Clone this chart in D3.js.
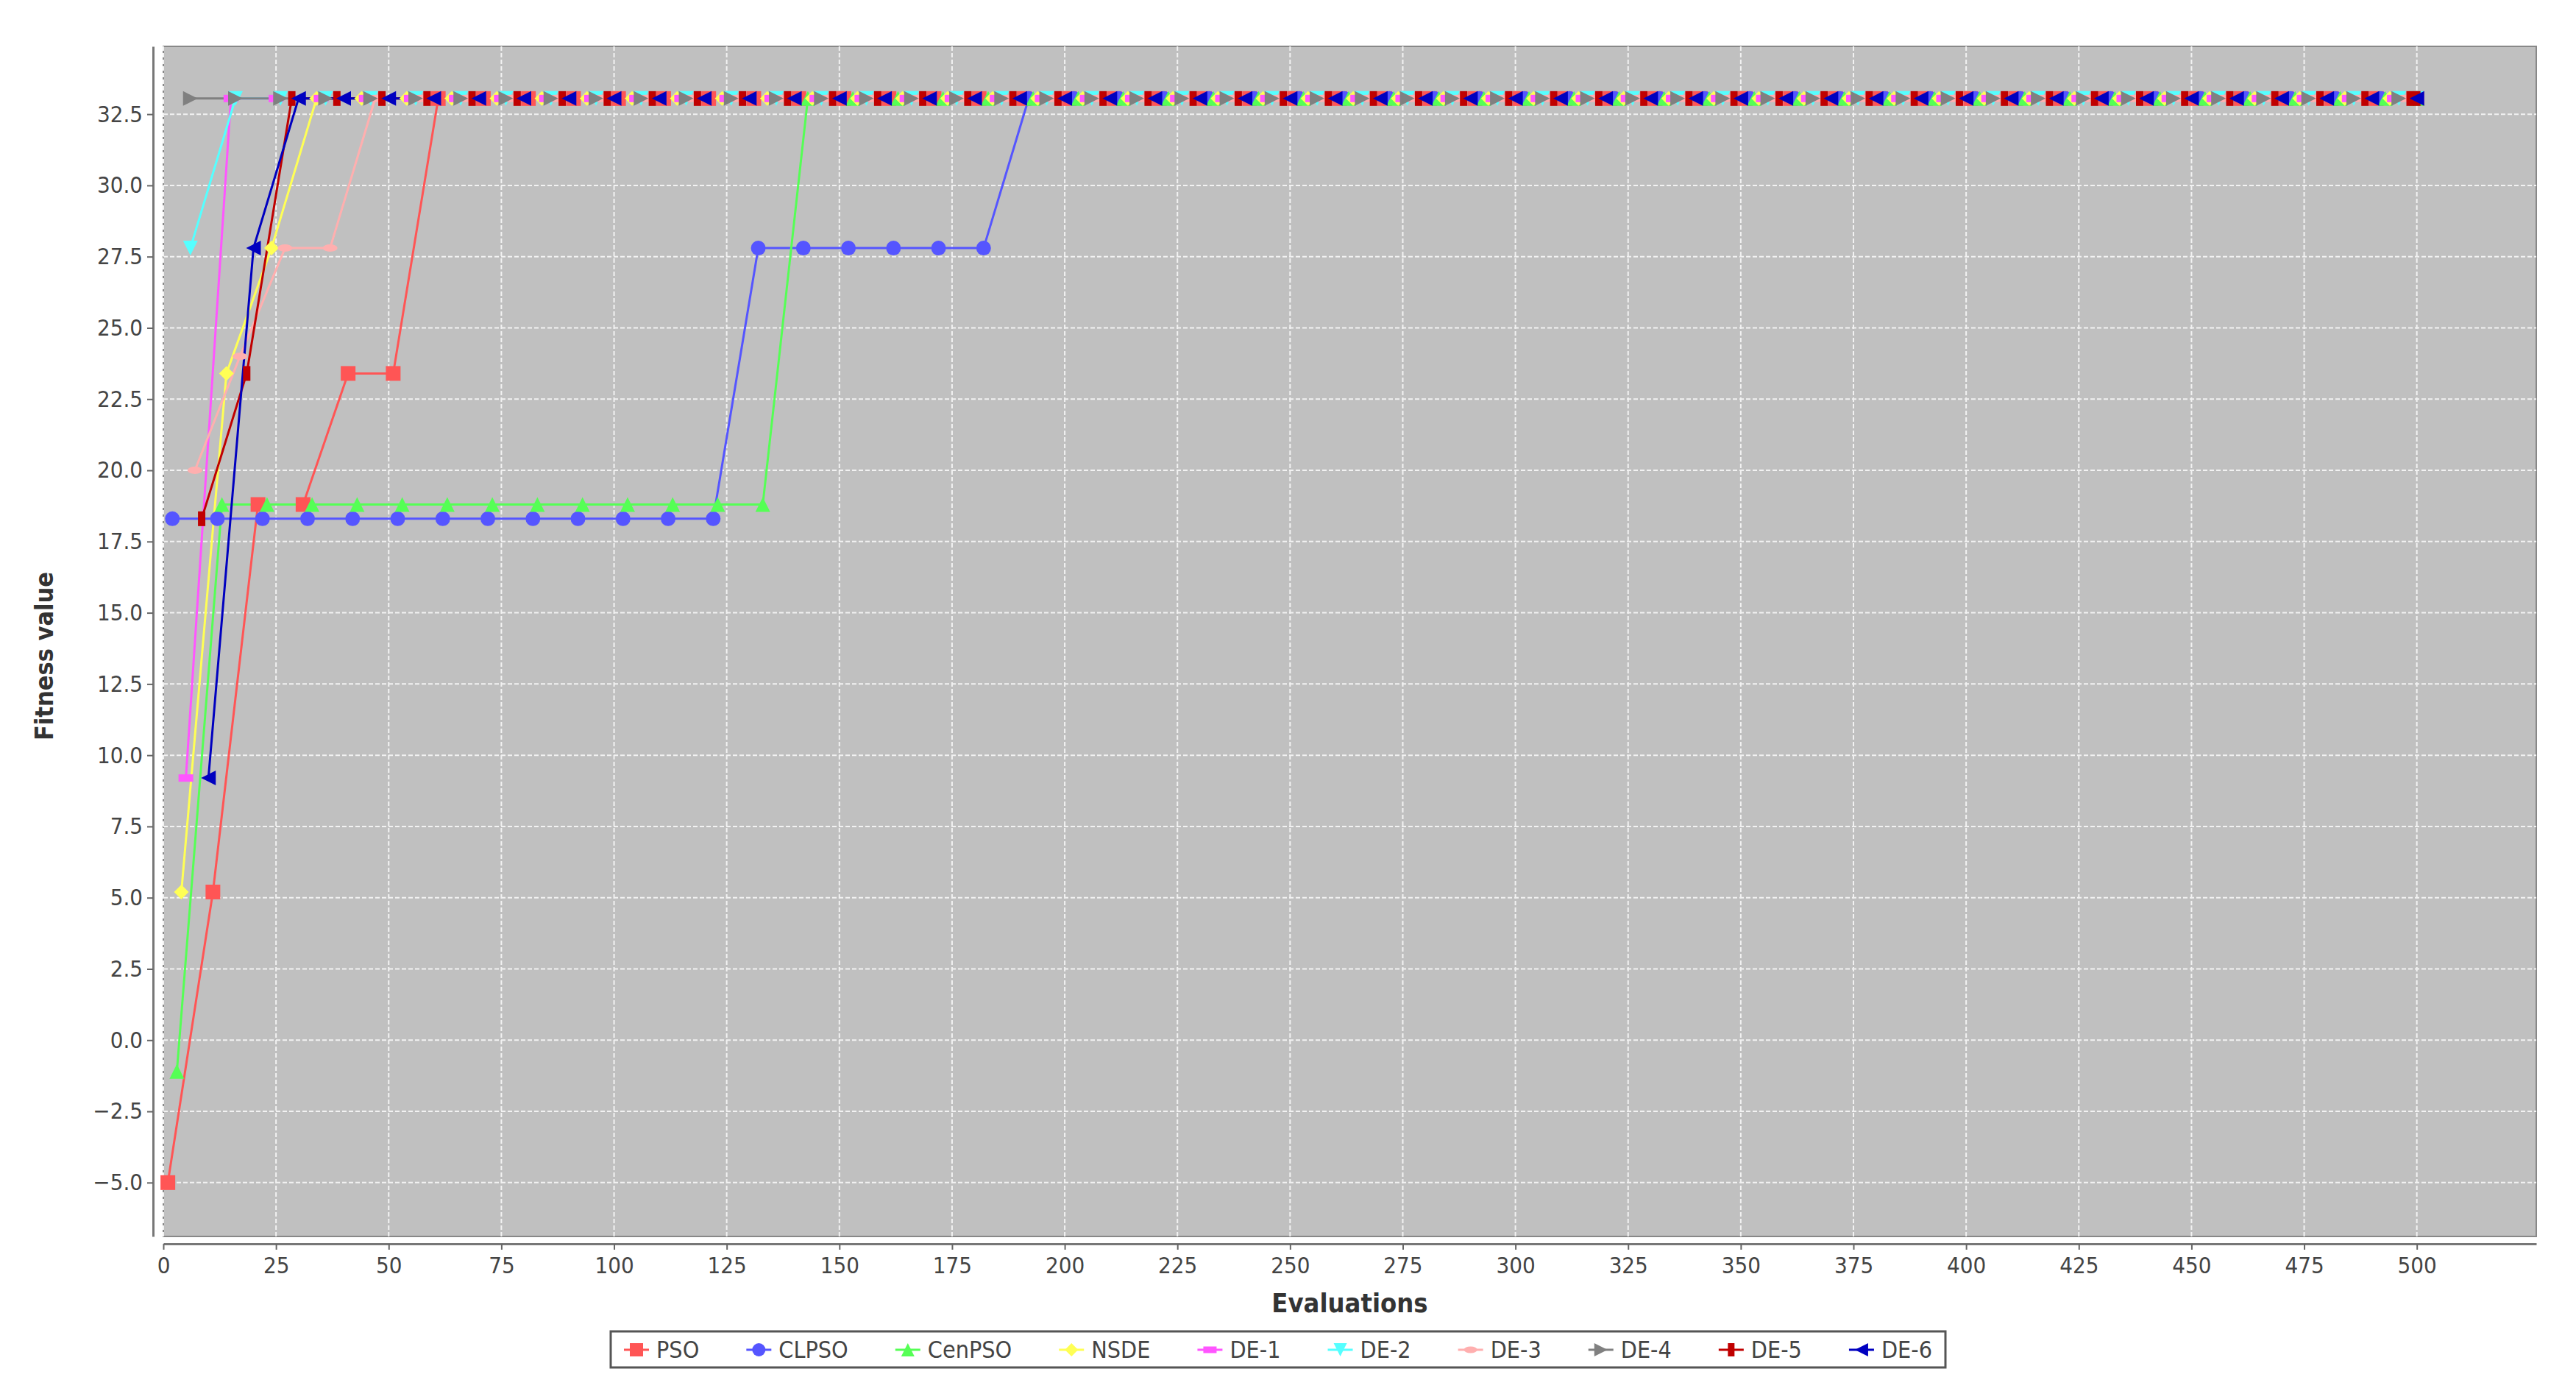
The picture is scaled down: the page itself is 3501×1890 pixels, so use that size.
<!DOCTYPE html>
<html lang="en">
<head>
<meta charset="UTF-8">
<title>Fitness vs Evaluations</title>
<style>
  body { margin: 0; background: #fff; overflow: hidden; }
  text { font-family: "Liberation Sans Narrow", "DejaVu Sans Condensed", sans-serif; fill: #444; }
</style>
</head>
<body>
<script src="https://cdn.jsdelivr.net/npm/d3@7/dist/d3.min.js"></script>
<script>
const seriesNames = ["PSO", "CLPSO", "CenPSO", "NSDE", "DE-1", "DE-2", "DE-3", "DE-4", "DE-5", "DE-6"];
const colors = ["#ff5555", "#5555ff", "#55ff55", "#ffff55", "#ff55ff", "#55ffff", "#ffafaf", "#808080", "#c00000", "#0000c0"];
const shapes = ["square", "circle", "triUp", "diamond", "hRect", "triDown", "hEllipse", "triRight", "vRect", "triLeft"];

// first evaluation sampled by each series (then every 10 evaluations, last point at 500)
const startEval = [1, 2, 3, 4, 5, 6, 7, 6, 8.5, 10];
const earlyValues = [
  [-5.0, 5.2, 18.8, 18.8, 23.4, 23.4],                       // PSO
  [18.3, 18.3, 18.3, 18.3, 18.3, 18.3, 18.3, 18.3, 18.3, 18.3, 18.3, 18.3, 18.3,
   27.8, 27.8, 27.8, 27.8, 27.8, 27.8],                       // CLPSO
  [-1.1, 18.8, 18.8, 18.8, 18.8, 18.8, 18.8, 18.8, 18.8, 18.8, 18.8, 18.8, 18.8, 18.8], // CenPSO
  [5.2, 23.4, 27.8],                                          // NSDE
  [9.2],                                                      // DE-1
  [27.8],                                                     // DE-2
  [20.0, 24.0, 27.8, 27.8],                                   // DE-3
  [],                                                         // DE-4
  [18.3, 23.4],                                               // DE-5
  [9.2, 27.8]                                                 // DE-6
];
const finalValue = 33.05;
const lastEval = 500;

const xTicks = d3.range(0, 501, 25);
const yTicks = d3.range(-5, 32.6, 2.5);

const W = 3501, H = 1890;
const plot = { left: 222, right: 3447, top: 63, bottom: 1680 };

const svg = d3.select("body").append("svg").attr("width", W).attr("height", H);

const x = d3.scaleLinear().domain([0, 526.5]).range([plot.left, plot.right]);
const y = d3.scaleLinear().domain([-6.89, 34.88]).range([plot.bottom, plot.top]);

svg.append("rect")
  .attr("x", plot.left).attr("y", plot.top)
  .attr("width", plot.right - plot.left).attr("height", plot.bottom - plot.top)
  .attr("fill", "#c0c0c0").attr("stroke", "#888").attr("stroke-width", 2);

// grid
svg.append("g").selectAll("line").data(xTicks).join("line")
  .attr("x1", d => x(d)).attr("x2", d => x(d))
  .attr("y1", plot.top).attr("y2", plot.bottom)
  .attr("stroke", "#f2f2f2").attr("stroke-width", 2).attr("stroke-dasharray", "6,3");
svg.append("g").selectAll("line").data(yTicks).join("line")
  .attr("x1", plot.left).attr("x2", plot.right)
  .attr("y1", d => y(d)).attr("y2", d => y(d))
  .attr("stroke", "#f2f2f2").attr("stroke-width", 2).attr("stroke-dasharray", "6,3");

// axes
const xAxis = svg.append("g").attr("transform", `translate(0,${plot.bottom + 10})`)
  .call(d3.axisBottom(x).tickValues(xTicks).tickSize(8).tickSizeOuter(0).tickPadding(10));
const yAxis = svg.append("g").attr("transform", `translate(${plot.left - 14},0)`)
  .call(d3.axisLeft(y).tickValues(yTicks).tickFormat(d3.format(".1f")).tickSize(8).tickSizeOuter(0).tickPadding(6));
[xAxis, yAxis].forEach(a => {
  a.selectAll("text").attr("font-size", 31).style("fill", "#444")
    .style("font-family", '"Liberation Sans Narrow", "DejaVu Sans Condensed", sans-serif');
  a.selectAll("line").attr("stroke", "#666").attr("stroke-width", 2);
  a.select(".domain").attr("stroke", "#777").attr("stroke-width", 3);
});

svg.append("text").attr("x", (plot.left + plot.right) / 2).attr("y", 1783)
  .attr("text-anchor", "middle").attr("font-size", 36).attr("font-weight", "bold")
  .style("fill", "#333").text("Evaluations");
svg.append("text").attr("transform", `translate(72,${(plot.top + plot.bottom) / 2 + 20}) rotate(-90)`)
  .attr("text-anchor", "middle").attr("font-size", 34).attr("font-weight", "bold")
  .style("fill", "#333").text("Fitness value");

// marker paths, s = half size
function shapePath(kind, s) {
  switch (kind) {
    case "square": return `M${-s},${-s}h${2*s}v${2*s}h${-2*s}Z`;
    case "circle": return `M${-s},0a${s},${s} 0 1,0 ${2*s},0a${s},${s} 0 1,0 ${-2*s},0Z`;
    case "triUp": return `M0,${-s}L${s},${s}L${-s},${s}Z`;
    case "triDown": return `M0,${s}L${s},${-s}L${-s},${-s}Z`;
    case "triRight": return `M${s},0L${-s},${s}L${-s},${-s}Z`;
    case "triLeft": return `M${-s},0L${s},${s}L${s},${-s}Z`;
    case "diamond": return `M0,${-s}L${s},0L0,${s}L${-s},0Z`;
    case "hRect": return `M${-s},${-s/2}h${2*s}v${s}h${-2*s}Z`;
    case "vRect": return `M${-s/2},${-s}h${s}v${2*s}h${-s}Z`;
    case "hEllipse": return `M${-s},0a${s},${s/2} 0 1,0 ${2*s},0a${s},${s/2} 0 1,0 ${-2*s},0Z`;
  }
}

const series = seriesNames.map((name, i) => {
  const pts = [];
  let e = startEval[i];
  earlyValues[i].forEach(v => { pts.push([e, v]); e += 10; });
  for (; e < lastEval; e += 10) pts.push([e, finalValue]);
  pts.push([lastEval, finalValue]);
  return { name, color: colors[i], shape: shapes[i], pts };
});

const line = d3.line().x(d => x(d[0])).y(d => y(d[1]));
const gS = svg.append("g");
series.forEach(s => {
  gS.append("path").attr("d", line(s.pts)).attr("fill", "none")
    .attr("stroke", s.color).attr("stroke-width", 3);
});
series.forEach(s => {
  gS.append("g").selectAll("path").data(s.pts).join("path")
    .attr("transform", d => `translate(${x(d[0])},${y(d[1])})`)
    .attr("d", shapePath(s.shape, 10)).attr("fill", s.color);
});

// legend, box spans the same width as in the original
const legX = 830, legW = 1814;
const lg = svg.append("g");
lg.append("rect").attr("x", legX).attr("y", 1809).attr("width", legW).attr("height", 49)
  .attr("fill", "#fff").attr("stroke", "#555").attr("stroke-width", 3);
const items = [];
series.forEach(s => {
  const it = lg.append("g");
  it.append("line").attr("x1", 0).attr("x2", 34).attr("stroke", s.color).attr("stroke-width", 3);
  it.append("path").attr("transform", "translate(17,0)").attr("d", shapePath(s.shape, 9)).attr("fill", s.color);
  const t = it.append("text").attr("x", 44).attr("dy", "0.35em").attr("font-size", 32).text(s.name);
  items.push({ g: it, w: 44 + t.node().getComputedTextLength() });
});
const gap = (legW - 36 - d3.sum(items, d => d.w)) / (items.length - 1);
let cx = legX + 18;
items.forEach(d => { d.g.attr("transform", `translate(${cx},1834)`); cx += d.w + gap; });
</script>
</body>
</html>
